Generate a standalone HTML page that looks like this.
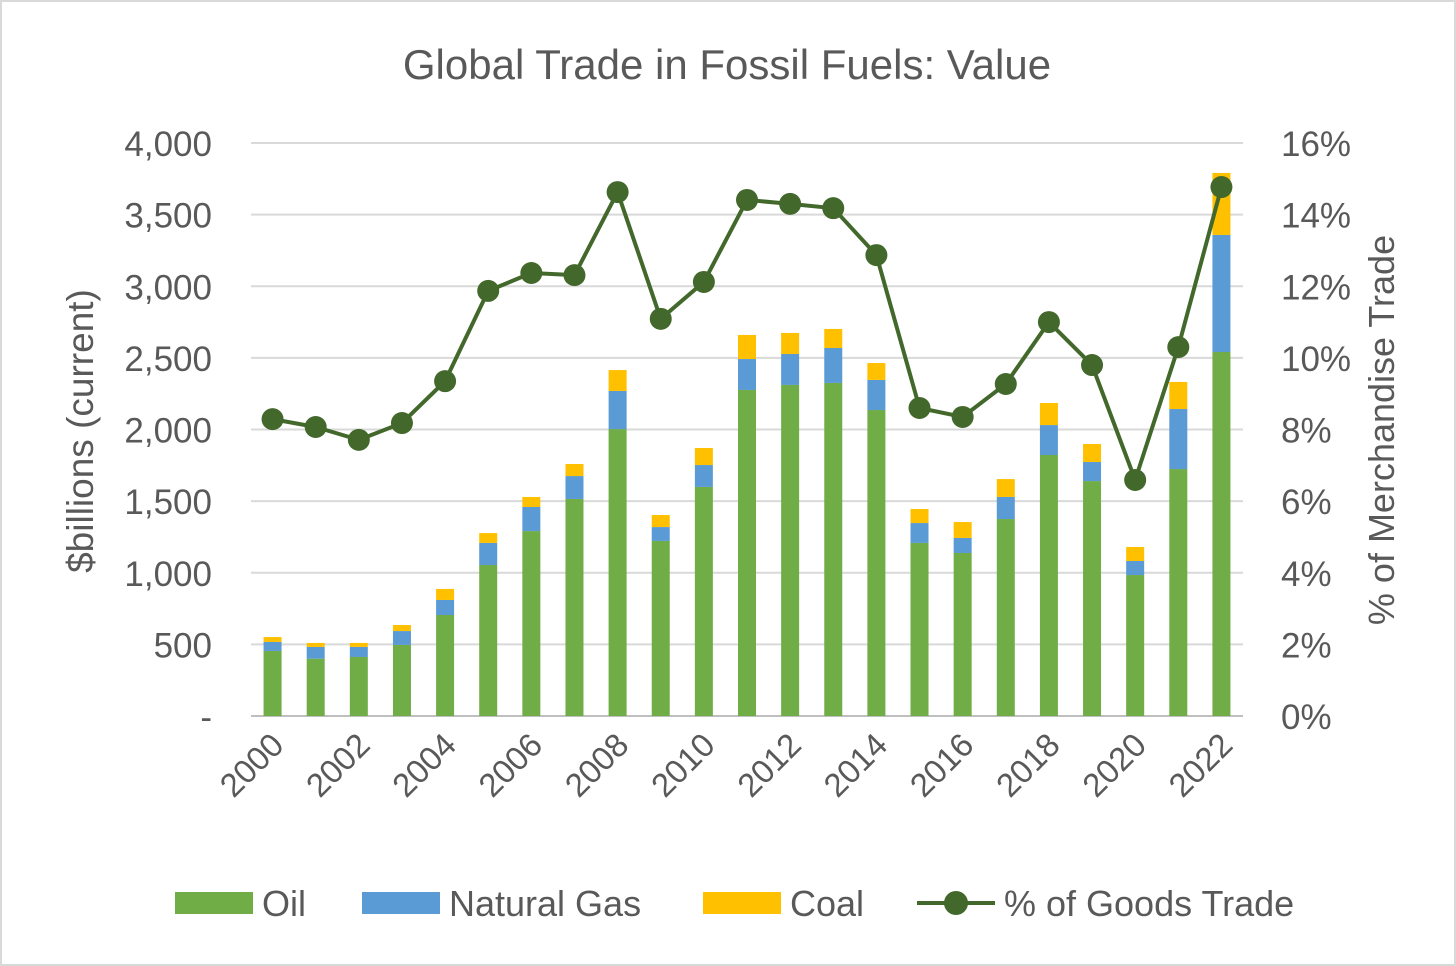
<!DOCTYPE html>
<html><head><meta charset="utf-8">
<style>
body{margin:0;background:#fff;}
svg{display:block;font-family:"Liberation Sans",sans-serif;}
text{fill:#595959;}
</style></head>
<body>
<svg id="chart" width="1456" height="966" viewBox="0 0 1456 966">
<rect x="1" y="1" width="1454" height="964" fill="#fff" stroke="#d9d9d9" stroke-width="2"/>
<text x="727" y="79" font-size="42" text-anchor="middle">Global Trade in Fossil Fuels: Value</text>
<g id="grid"></g><g id="bars"></g><g id="line"></g><g id="axes"></g>
<text transform="translate(93,431) rotate(-90)" font-size="37" text-anchor="middle">$billions (current)</text>
<text transform="translate(1394,430) rotate(-90)" font-size="36" text-anchor="middle">% of Merchandise Trade</text>
<g>
<rect x="175" y="892" width="78" height="22" fill="#70AD47"/>
<text x="262" y="916" font-size="36">Oil</text>
<rect x="362" y="892" width="78" height="22" fill="#5B9BD5"/>
<text x="449" y="916" font-size="36">Natural Gas</text>
<rect x="703" y="892" width="78" height="22" fill="#FFC000"/>
<text x="790" y="916" font-size="36">Coal</text>
<line x1="917" y1="903" x2="995" y2="903" stroke="#43682B" stroke-width="4"/>
<circle cx="956" cy="903" r="12" fill="#43682B"/>
<text x="1004" y="916" font-size="36">% of Goods Trade</text>
</g>
</svg>
<script>
const years=[2000,2001,2002,2003,2004,2005,2006,2007,2008,2009,2010,2011,2012,2013,2014,2015,2016,2017,2018,2019,2020,2021,2022];
const oil=[454,400,412,496,705,1054,1291,1515,2003,1222,1599,2276,2311,2325,2136,1208,1138,1375,1822,1640,984,1724,2541];
const gas=[63,82,70,97,105,154,168,160,266,97,153,216,216,244,210,139,105,154,209,133,98,419,817];
const coal=[34,28,28,42,77,69,70,84,146,84,119,168,147,133,118,98,111,125,154,126,98,189,433];
const pct=[8.29,8.07,7.71,8.18,9.35,11.87,12.37,12.31,14.63,11.09,12.12,14.41,14.30,14.18,12.87,8.60,8.35,9.27,11.00,9.80,6.59,10.30,14.77];
const leftTicks=["-","500","1,000","1,500","2,000","2,500","3,000","3,500","4,000"];
const rightTicks=["0%","2%","4%","6%","8%","10%","12%","14%","16%"];
const NS="http://www.w3.org/2000/svg";
const L=251,R=1243,T=143,B=716;
const band=(R-L)/years.length;
const x=i=>L+band*(i+0.5);
const y=v=>B-(v/4000)*(B-T);
const y2=p=>B-(p/16)*(B-T);
function mk(tag,attrs,parent,txt){const e=document.createElementNS(NS,tag);for(const k in attrs)e.setAttribute(k,attrs[k]);if(txt!==undefined)e.textContent=txt;document.getElementById(parent).appendChild(e);return e;}
for(let k=0;k<leftTicks.length;k++){
  const yy=B-k*(B-T)/8;
  const g=mk('line',{x1:L,x2:R,y1:yy,y2:yy,stroke:k===0?'#bfbfbf':'#d9d9d9','stroke-width':2},'grid');
  
  
  const t=mk('text',{x:212,y:yy+13,'font-size':35,'text-anchor':'end'},'axes',leftTicks[k]);
  
  
  const t2=mk('text',{x:1281,y:yy+13,'font-size':35},'axes',rightTicks[k]);
  
  
}
const bw=18;
years.forEach((yr,i)=>{
  const segs=[[0,oil[i],'#70AD47','oil'],[oil[i],oil[i]+gas[i],'#5B9BD5','gas'],[oil[i]+gas[i],oil[i]+gas[i]+coal[i],'#FFC000','coal']];
  segs.forEach(s=>{
    const r=mk('rect',{x:x(i)-bw/2,y:y(s[1]),width:bw,height:y(s[0])-y(s[1]),fill:s[2]},'bars');
    
    
  });
  if(i%2===0){
    const t=mk('text',{x:0,y:0,'font-size':33,'text-anchor':'end',transform:`translate(${x(i)+13},${B+31}) rotate(-45)`},'axes',String(yr));
    
    
  }
});
const pts=pct.map((p,i)=>x(i)+','+y2(p)).join(' ');
const pl=mk('polyline',{points:pts,fill:'none',stroke:'#43682B','stroke-width':4,'stroke-linejoin':'round'},'line');


pct.forEach((p,i)=>{
  const c=mk('circle',{cx:x(i),cy:y2(p),r:11,fill:'#43682B'},'line');
  
  
});
</script>
</body></html>
